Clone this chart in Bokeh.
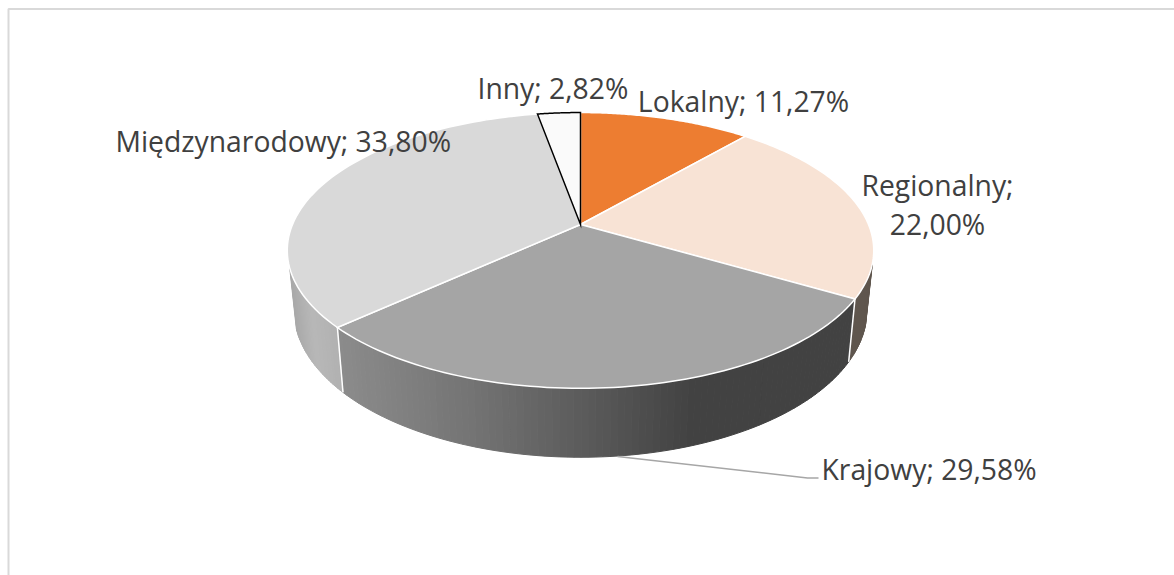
import numpy as np
from bokeh.plotting import figure
from bokeh.models import Range1d
from bokeh.core.properties import value
from bokeh.embed import file_html
from bokeh.resources import INLINE

categories = ["Lokalny", "Regionalny", "Krajowy", "Międzynarodowy", "Inny"]
shares = [11.27, 22.00, 29.58, 33.80, 2.82]
share_labels = ["11,27%", "22,00%", "29,58%", "33,80%", "2,82%"]
top_colors = ["#ed7d31", "#f8e3d5", "#a5a5a5", "#d9d9d9", "#fafafa"]
edge_colors = ["#ffffff", "#ffffff", "#ffffff", "#ffffff", "#000000"]

W, H = 1174, 575
p = figure(width=W, height=H, output_backend="svg", toolbar_location=None,
           x_range=Range1d(0, W), y_range=Range1d(H, 0),
           min_border=0, outline_line_color=None)
p.axis.visible = False
p.grid.visible = False

# perspective disc
CX, CY, KX, KY, PERSP = 580.0, 224.0, 288.0, 133.0, 0.188
LOW_SX, LOW_SY, LOW_Y0 = 0.977, 1.067, 282.0


def top_rim(t):
    u, v = np.sin(t), np.cos(t)
    d = 1 + PERSP * v
    return CX + KX * u / d, CY - KY * v / d


def low_rim(t):
    x, y = top_rim(t)
    return CX + (x - CX) * LOW_SX, LOW_Y0 + (y - CY) * LOW_SY


total = sum(shares)
edges = np.radians(np.concatenate([[0], np.cumsum(shares)]) / total * 360)


def grey(g):
    return "#%02x%02x%02x" % (int(g), int(g), int(g))


KRAJ_STOPS = ([337, 470, 590, 690, 860], [0x8c, 0x74, 0x5a, 0x43, 0x42])
MIED_STOPS = ([287, 310, 342], [0xa8, 0xb8, 0xb0])
REG_COLOR = "#5f564e"


def side(t0, t1, stops, n):
    ts = np.linspace(t0, t1, n + 1)
    xs, ys, cs = [], [], []
    for a, b in zip(ts[:-1], ts[1:]):
        xa, ya = top_rim(a)
        xb, yb = top_rim(b)
        xc, yc = low_rim(b)
        xd, yd = low_rim(a)
        xs.append([xa, xb, xc, xd])
        ys.append([ya, yb, yc, yd])
        if stops is None:
            cs.append(REG_COLOR)
        else:
            cs.append(grey(np.interp((xa + xb) / 2, stops[0], stops[1])))
    p.patches(xs, ys, fill_color=cs, line_color=cs, line_width=1)


# side walls: Regionalny (visible part), Krajowy, Międzynarodowy (visible part)
side(np.radians(106), edges[2], None, 20)
side(edges[2], edges[3], KRAJ_STOPS, 90)
side(edges[3], np.radians(252), MIED_STOPS, 30)

# white seams on the wall
for e in (edges[2], edges[3]):
    xa, ya = top_rim(e)
    xb, yb = low_rim(e)
    p.line([xa, xb], [ya, yb], line_color="#ffffff", line_width=1.5)

# top faces
for i in range(len(shares)):
    ts = np.linspace(edges[i], edges[i + 1], 80)
    rx, ry = top_rim(ts)
    xs = np.concatenate([[CX], rx])
    ys = np.concatenate([[CY], ry])
    p.patch(xs, ys, fill_color=top_colors[i], line_color=edge_colors[i],
            line_width=1.5, line_join="miter")

# chart-area border (top and left sides only are visible)
p.line([8, 8, W], [H, 8.5, 8.5], line_color="#d9d9d9", line_width=2)

# leader line for Krajowy
p.line([617, 807, 818], [456, 477.5, 477.5], line_color="#a6a6a6", line_width=1.5)

# data labels
label_x = [743, 937, 821, 115, 477]
label_y = [100, 204, 468, 140, 87]
texts = [f"{c}; {s}" for c, s in zip(categories, share_labels)]
texts[1] = "Regionalny;\n22,00%"
aligns = ["center", "center", "left", "left", "left"]
for x, y, t, a in zip(label_x, label_y, texts, aligns):
    p.text([x], [y], text=[t], text_font=value("Open Sans"), text_font_size="28.3px",
           text_color="#404040", text_align=a, text_baseline="alphabetic",
           text_line_height=1.01)

open("out.html", "w").write(file_html(p, INLINE))
